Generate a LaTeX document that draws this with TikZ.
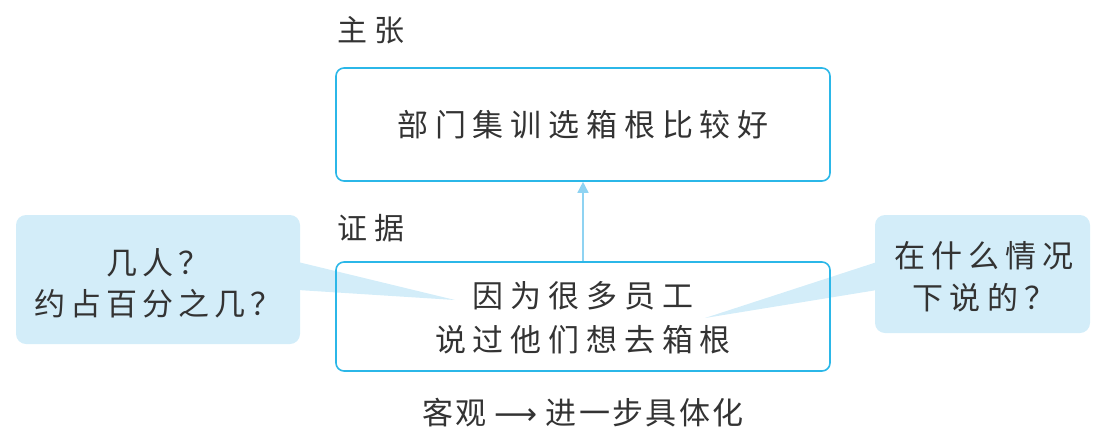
\documentclass[tikz,border=0pt]{standalone}
\usepackage{fontspec}
\setmainfont{Noto Sans CJK SC}
\newfontfamily\djv{DejaVu Sans}
\usetikzlibrary{arrows.meta}
\definecolor{boxline}{HTML}{2BB7E8}
\definecolor{bubfill}{HTML}{D3EDF9}
\definecolor{arrc}{HTML}{8FD3F2}
\definecolor{txt}{HTML}{333333}
\tikzset{
  mainbox/.style={draw=boxline, line width=1.6pt, rounded corners=8pt, minimum width=494pt, inner sep=0pt},
  bubble/.style={fill=bubfill, rounded corners=10pt, inner sep=0pt},
  lbl/.style={text=txt, font=\fontsize{30pt}{36pt}\selectfont\addfontfeature{LetterSpace=22}},
  btxt/.style={text=txt, align=center, font=\fontsize{31pt}{41pt}\selectfont\addfontfeature{LetterSpace=16}},
}
\begin{document}
\begin{tikzpicture}[x=1pt,y=-1pt]
\useasboundingbox (0,0) rectangle (1107,445);
% bubbles and tails
\fill[bubfill] (298,262) -- (455,300) -- (298,290) -- cycle;
\fill[bubfill] (877,262) -- (705,318) -- (877,290) -- cycle;
\node[bubble, minimum width=284pt, minimum height=129pt] (lb) at (158,279.5) {};
\node[bubble, minimum width=215pt, minimum height=118pt] (rb) at (982.5,274) {};
\node[btxt] (lbt) at (158,283) {几人？\\约占百分之几？};
\node[btxt, font=\fontsize{31pt}{42pt}\selectfont\addfontfeature{LetterSpace=20}] (rbt) at (984,277) {在什么情况\\下说的？};
% main boxes
\node[mainbox, minimum height=113pt] (top) at (583,124.5) {};
\node[mainbox, minimum height=109pt] (bot) at (583,316.5) {};
\node[btxt, font=\fontsize{31pt}{41pt}\selectfont\addfontfeature{LetterSpace=22}] (topt) at (top.center) {部门集训选箱根比较好};
\node[btxt, font=\fontsize{31pt}{44pt}\selectfont\addfontfeature{LetterSpace=22}] (bott) at (583,318) {因为很多员工\\说过他们想去箱根};
\draw[arrc, line width=1.5pt, -{Triangle[width=11pt,length=11pt]}] (bot.north) -- (top.south);
% labels
\node[lbl, anchor=west] (zz) at (334,30) {主张};
\node[lbl, anchor=west] (zj) at (334,228) {证据};
\node[lbl, font=\fontsize{31pt}{36pt}\selectfont\addfontfeature{LetterSpace=8}] (kg) at (583,413) {客观\hspace{8pt}{\djv\fontsize{30pt}{36pt}\selectfont ⟶}\hspace{8pt}进一步具体化};
\end{tikzpicture}
\end{document}
